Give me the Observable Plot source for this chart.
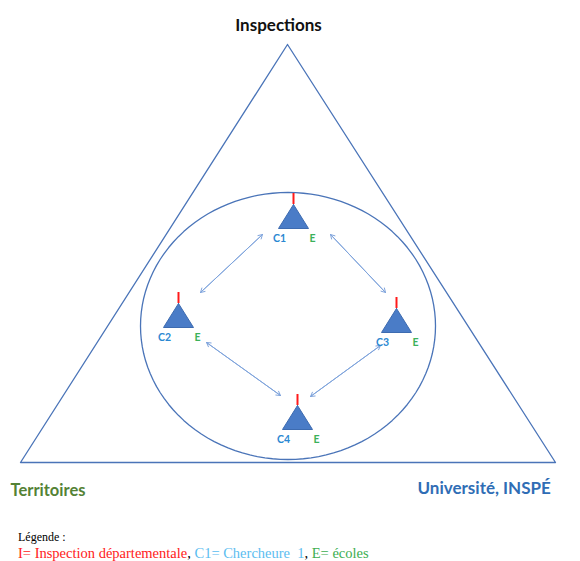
<!DOCTYPE html>
<html><head><meta charset="utf-8">
<script src="https://cdn.jsdelivr.net/npm/d3@7"></script>
<script src="https://cdn.jsdelivr.net/npm/@observablehq/plot@0.6"></script>
<style>
body{margin:0;background:#fff;}
#legend{font-family:"Liberation Serif","Times New Roman",serif;padding-left:18px;margin-top:8px;}
#legend .l1{font-size:12px;line-height:15px;color:#000;}
#legend .l2{font-size:14.5px;line-height:17px;}
</style>
</head><body>
<div id="chart"></div>
<div id="legend"></div>
<script>
// Diagram data
const outerX = [287, 20, 555];
const outerY = [44, 462, 462];
const ellipseCenter = [287.5, 325.5];
const ellipseRadii = [147.5, 133.5];
const nodes = ["C1", "C2", "C3", "C4"];
const nodeX = [293, 178, 396, 297];
const nodeBaseY = [228, 327, 332, 429];
const links = [["C1","C2"],["C1","C3"],["C2","C4"],["C3","C4"]];
const linkStartX = [262, 330, 206, 380];
const linkStartY = [234, 234, 342, 345];
const linkEndX = [200, 385, 280, 310];
const linkEndY = [292, 292, 395, 396];
const titleLabel = "Inspections";
const leftLabel = "Territoires";
const rightLabel = "Université, INSPÉ";
const legendTitle = "Légende :";
const legendParts = ["I= Inspection départementale", ", ", "C1= Chercheure  1", ", ", "E= écoles"];

const W = 580, H = 522;
const triW = 15, triH = 24, stem = 11;

const outer = outerX.map((x, i) => ({x, y: outerY[i]}));
outer.push(outer[0]);
const ell = d3.range(0, 361, 3).map(a => ({
  x: ellipseCenter[0] + ellipseRadii[0] * Math.cos(a * Math.PI / 180),
  y: ellipseCenter[1] + ellipseRadii[1] * Math.sin(a * Math.PI / 180)
}));
const tri = nodes.flatMap((n, i) => [
  {n, x: nodeX[i], y: nodeBaseY[i] - triH},
  {n, x: nodeX[i] + triW, y: nodeBaseY[i]},
  {n, x: nodeX[i] - triW, y: nodeBaseY[i]},
  {n, x: nodeX[i], y: nodeBaseY[i] - triH}
]);
const stems = nodes.map((n, i) => ({n, x: nodeX[i], y1: nodeBaseY[i] - triH - stem, y2: nodeBaseY[i] - triH}));
const cLabels = nodes.map((n, i) => ({t: n, x: nodeX[i] - 14, y: nodeBaseY[i] + 10}));
const eLabels = nodes.map((n, i) => ({t: "E", x: nodeX[i] + 19, y: nodeBaseY[i] + 10}));
const arr = links.map((l, i) => ({x1: linkStartX[i], y1: linkStartY[i], x2: linkEndX[i], y2: linkEndY[i]}));

const font = "Lato, sans-serif";
const plot = Plot.plot({
  width: W, height: H, margin: 0,
  x: {type: "linear", domain: [0, W], range: [0, W], axis: null},
  y: {type: "linear", domain: [0, H], range: [0, H], axis: null},
  marks: [
    Plot.line(outer, {x: "x", y: "y", stroke: "#4a74b8", strokeWidth: 1.3, curve: "linear"}),
    Plot.line(ell, {x: "x", y: "y", stroke: "#4a74b8", strokeWidth: 1.3, curve: "linear"}),
    Plot.arrow(arr, {x1: "x1", y1: "y1", x2: "x2", y2: "y2", stroke: "#7fa4dc", strokeWidth: 1, headLength: 7}),
    Plot.arrow(arr, {x1: "x2", y1: "y2", x2: "x1", y2: "y1", stroke: "#7fa4dc", strokeWidth: 1, headLength: 7}),
    Plot.ruleX(stems, {x: "x", y1: "y1", y2: "y2", stroke: "#ff1a1a", strokeWidth: 2}),
    Plot.line(tri, {x: "x", y: "y", z: "n", fill: "#4a7cc7", stroke: "#3d6bb0", strokeWidth: 1}),
    Plot.text(cLabels, {x: "x", y: "y", text: "t", fill: "#2a88d2", fontSize: 10.5, fontWeight: "bold", fontFamily: font, textAnchor: "middle"}),
    Plot.text(eLabels, {x: "x", y: "y", text: "t", fill: "#3cb15a", fontSize: 10.5, fontWeight: "bold", fontFamily: font, textAnchor: "middle"}),
    Plot.text([titleLabel], {x: 278, y: 25, text: d => d, fill: "#111", textAnchor: "middle", fontSize: 17, fontWeight: "bold", fontFamily: font}),
    Plot.text([leftLabel], {x: 10, y: 490, text: d => d, fill: "#548235", textAnchor: "start", fontSize: 16.5, fontWeight: "bold", fontFamily: font}),
    Plot.text([rightLabel], {x: 417, y: 488, text: d => d, fill: "#2f6db5", textAnchor: "start", fontSize: 17, fontWeight: "bold", fontFamily: font})
  ]
});
document.getElementById("chart").appendChild(plot);

const leg = document.getElementById("legend");
const l1 = document.createElement("div"); l1.className = "l1"; l1.textContent = legendTitle; leg.appendChild(l1);
const l2 = document.createElement("div"); l2.className = "l2";
const colors = ["#ff2020", "#000", "#5bbdf0", "#000", "#3cae50"];
legendParts.forEach((p, i) => {
  const s = document.createElement("span");
  s.textContent = p; s.style.color = colors[i]; s.style.whiteSpace = "pre";
  l2.appendChild(s);
});
leg.appendChild(l2);
</script>
</body></html>
